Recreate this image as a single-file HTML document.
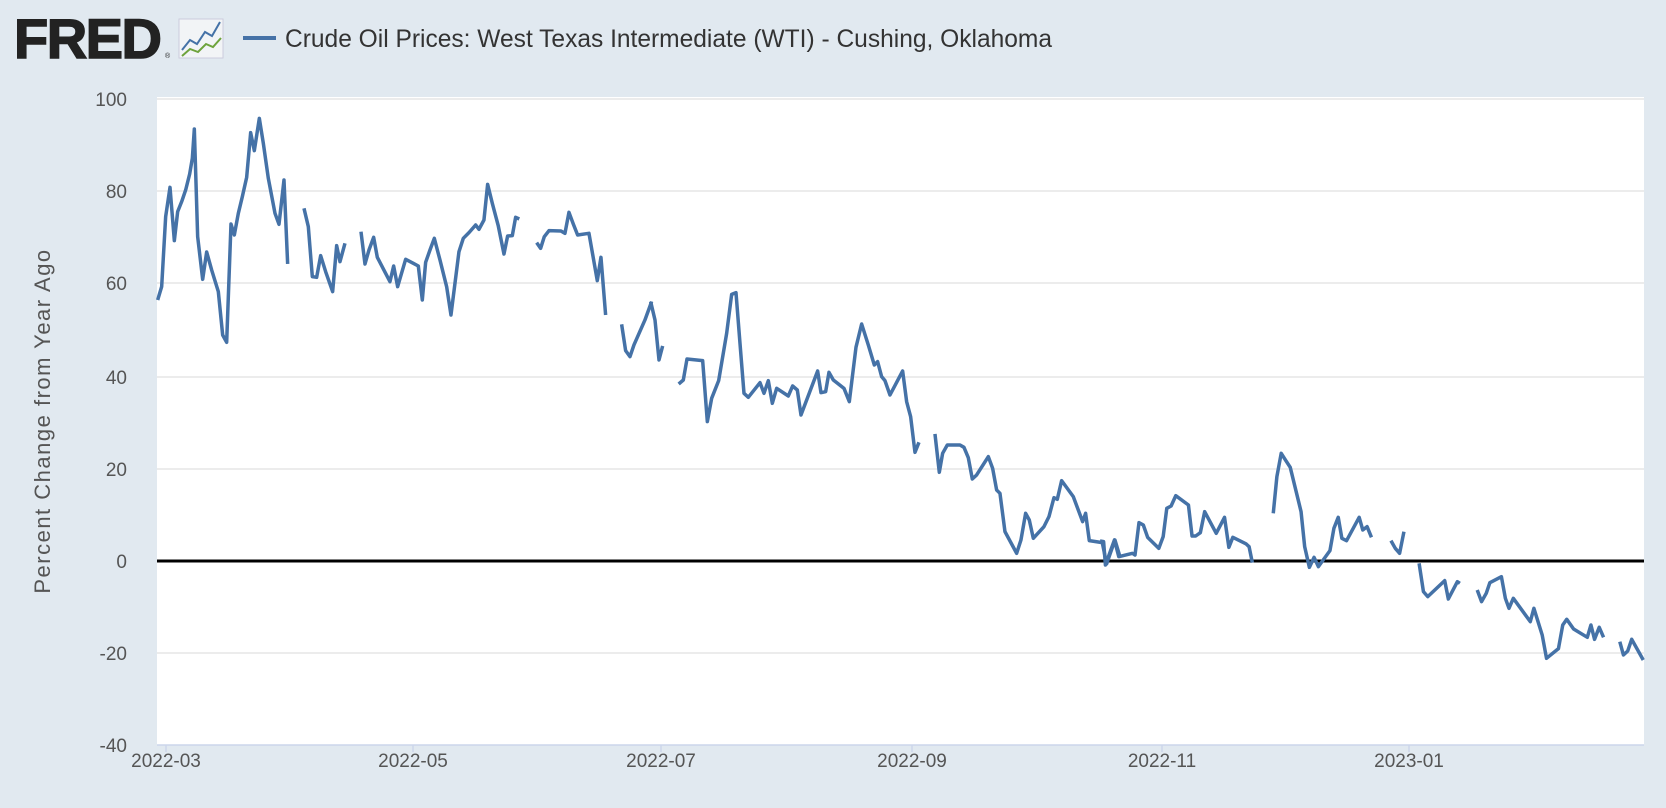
<!DOCTYPE html>
<html><head><meta charset="utf-8"><style>
html,body{margin:0;padding:0;background:#e1e9f0;}
svg{display:block;font-family:"Liberation Sans",sans-serif;}
</style></head><body>
<svg width="1666" height="808" viewBox="0 0 1666 808" xmlns="http://www.w3.org/2000/svg">
<rect width="1666" height="808" fill="#e1e9f0"/>
<!-- logo -->
<text x="14" y="58" font-size="56" font-weight="bold" fill="#222" letter-spacing="-1.5" stroke="#222" stroke-width="1.5">FRED</text>
<text x="165" y="58" font-size="7" fill="#222">®</text>
<rect x="179" y="19" width="44" height="39" fill="#f2f4f6" stroke="#ccd" stroke-width="1"/>
<polyline points="182,50 190,40 197,44 205,32 212,36 220,22" fill="none" stroke="#4572a7" stroke-width="2"/>
<polyline points="182,56 190,49 198,52 206,44 213,47 221,38" fill="none" stroke="#6ea33c" stroke-width="2"/>
<!-- legend -->
<line x1="243" y1="38" x2="276" y2="38" stroke="#4572a7" stroke-width="4"/>
<text x="285" y="47" font-size="25" fill="#333" textLength="767" lengthAdjust="spacingAndGlyphs">Crude Oil Prices: West Texas Intermediate (WTI) - Cushing, Oklahoma</text>
<!-- plot -->
<rect x="157" y="97" width="1487" height="648" fill="#fff"/>
<g stroke="#e6e6e6" stroke-width="1.5">
<line x1="157" x2="1644" y1="99" y2="99"/><line x1="157" x2="1644" y1="191" y2="191"/>
<line x1="157" x2="1644" y1="283" y2="283"/><line x1="157" x2="1644" y1="377" y2="377"/>
<line x1="157" x2="1644" y1="469" y2="469"/><line x1="157" x2="1644" y1="653" y2="653"/>
</g>
<line x1="157" x2="1644" y1="745" y2="745" stroke="#ccd6eb" stroke-width="1.5"/>
<g stroke="#ccd6eb" stroke-width="1.5">
<line x1="166" x2="166" y1="745" y2="752"/><line x1="413" x2="413" y1="745" y2="752"/>
<line x1="661" x2="661" y1="745" y2="752"/><line x1="912" x2="912" y1="745" y2="752"/>
<line x1="1162" x2="1162" y1="745" y2="752"/><line x1="1409" x2="1409" y1="745" y2="752"/>
</g>
<g font-size="19" fill="#555" text-anchor="end">
<text x="127" y="106">100</text><text x="127" y="198">80</text><text x="127" y="290">60</text>
<text x="127" y="384">40</text><text x="127" y="476">20</text><text x="127" y="568">0</text>
<text x="127" y="660">-20</text><text x="127" y="752">-40</text>
</g>
<g font-size="19" fill="#555" text-anchor="middle">
<text x="166" y="767">2022-03</text><text x="413" y="767">2022-05</text><text x="661" y="767">2022-07</text>
<text x="912" y="767">2022-09</text><text x="1162" y="767">2022-11</text><text x="1409" y="767">2023-01</text>
</g>
<text transform="translate(50,421) rotate(-90)" font-size="22" fill="#555" text-anchor="middle" letter-spacing="1.5">Percent Change from Year Ago</text>
<line x1="157" x2="1644" y1="561" y2="561" stroke="#000" stroke-width="3"/>
<g fill="none" stroke="#4572a7" stroke-width="3.5" stroke-linejoin="round">
<g transform="translate(155,100) scale(0.3333)">
<polyline vector-effect="non-scaling-stroke" points="8,600 20,560 32,350 45,262 58,422 68,335 80,305 92,270 104,222 112,175 118,87 128,410 143,538 155,456 170,510 190,575 203,705 215,727 228,372 238,405 250,340 262,290 275,232 287,98 298,152 313,55 325,130 340,235 360,340 372,373 387,240 398,492"/>
<polyline vector-effect="non-scaling-stroke" points="447,325 460,380 472,530 485,532 497,467 512,515 533,575 545,437 555,485 570,430"/>
<polyline vector-effect="non-scaling-stroke" points="618,395 630,492 642,450 656,412 667,472 705,545 716,498 728,560 752,478 775,490 790,498 802,600 812,487 825,450 838,415 855,480 875,560 888,645 912,455 925,415 942,398 962,375 972,388 987,360 998,253 1012,310 1030,378 1047,462 1058,408 1072,407 1082,352 1093,357"/>
<polyline vector-effect="non-scaling-stroke" points="1145,428 1157,445 1168,410 1182,392 1218,393 1230,400 1242,337 1255,372 1268,405 1302,400 1327,542 1338,472 1352,645"/>
<polyline vector-effect="non-scaling-stroke" points="1400,673 1412,752 1425,770 1437,735 1470,660 1490,605"/>
</g>
<g transform="translate(620,260) scale(0.3333)">
<polyline vector-effect="non-scaling-stroke" points="92,125 105,180 117,300 128,258"/>
<polyline vector-effect="non-scaling-stroke" points="176,372 190,360 201,297 248,302 262,485 275,415 296,362 320,220 335,103 348,98 360,250 372,400 385,412 420,368 432,400 445,362 457,430 470,385 505,408 518,378 532,390 543,465 593,333 603,398 617,395 627,337 640,360 672,385 688,425 708,262 725,192 745,255 763,315 773,305 785,350 795,362 810,405 848,333 860,425 872,470 885,577 897,547"/>
<polyline vector-effect="non-scaling-stroke" points="945,522 958,637 968,580 982,555 1020,555 1032,562 1045,593 1057,657 1070,645 1105,590 1118,625 1130,690 1140,700 1155,815 1190,880 1203,840 1217,760 1228,780 1240,835 1272,800 1287,770 1302,713 1312,718 1325,662 1360,710 1388,785 1397,760 1408,842 1447,848 1460,912 1485,840 1500,890"/>
</g>
<g transform="translate(1100,430) scale(0.36097,0.3333)">
<polyline vector-effect="non-scaling-stroke" points="0,333 10,335 15,405 40,330 52,380 90,370 97,375 108,278 120,285 132,322 163,355 175,320 185,235 197,228 210,197 245,225 255,318 265,318 278,308 290,245 322,310 345,262 357,352 368,322 405,342 413,350 422,398"/>
<polyline vector-effect="non-scaling-stroke" points="480,250 490,140 502,70 515,92 527,112 557,245 567,350 580,412 593,382 605,410 637,362 648,295 660,262 670,325 683,332 718,262 728,300 740,290 752,322"/>
<polyline vector-effect="non-scaling-stroke" points="806,332 818,355 830,370 842,305"/>
<polyline vector-effect="non-scaling-stroke" points="884,400 896,485 908,500 955,452 965,507 990,455 997,460"/>
<polyline vector-effect="non-scaling-stroke" points="1045,480 1057,515 1070,490 1080,458 1112,440 1123,505 1133,535 1145,505 1192,575 1202,535 1225,615 1237,685 1270,656 1282,585 1293,568 1312,597 1350,622 1360,585 1370,628 1383,592 1395,622"/>
<polyline vector-effect="non-scaling-stroke" points="1440,635 1450,675 1462,663 1473,628 1505,690"/>
</g>
</g>
</svg>
</body></html>
